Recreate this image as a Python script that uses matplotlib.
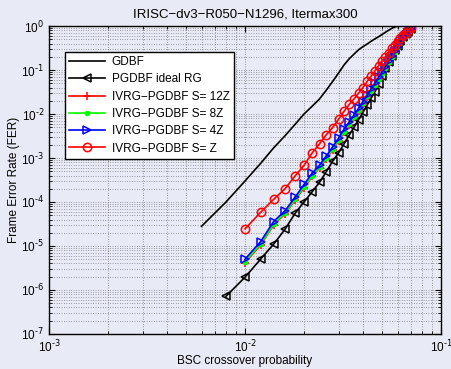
import numpy as np
import matplotlib
matplotlib.use("Agg")
import matplotlib.pyplot as plt
from matplotlib.ticker import LogLocator, NullFormatter, FuncFormatter

plt.rcParams['font.family'] = ['Liberation Sans', 'DejaVu Sans']
plt.rcParams['mathtext.default'] = 'regular'

# crossover probabilities
p_gdbf = [0.006, 0.008, 0.010, 0.012, 0.014, 0.016, 0.018, 0.020, 0.022, 0.024,
          0.026, 0.028, 0.030, 0.032, 0.034, 0.036, 0.038, 0.040, 0.042, 0.044,
          0.046, 0.048, 0.050, 0.052, 0.054, 0.056, 0.058, 0.060, 0.062, 0.064,
          0.066, 0.068, 0.070]
p_ideal = p_gdbf[1:]
p_ivrg = p_gdbf[2:]

fer_gdbf = [2.8e-5, 1.0e-4, 3.0e-4, 7.5e-4, 1.7e-3, 3.2e-3, 5.8e-3, 1.0e-2, 1.5e-2, 2.2e-2,
            3.5e-2, 5.5e-2, 8.5e-2, 0.13, 0.18, 0.23, 0.29, 0.34, 0.39, 0.45,
            0.51, 0.57, 0.64, 0.72, 0.80, 0.88, 0.95, 0.98, 0.99, 0.995,
            0.995, 0.995, 0.995]

fer_ideal = [7.2e-7, 1.95e-6, 5.0e-6, 1.1e-5, 2.4e-5, 5.5e-5, 1.0e-4, 1.7e-4, 2.8e-4, 4.9e-4,
             8.5e-4, 1.3e-3, 2.1e-3, 3.3e-3, 5.0e-3, 7.5e-3, 1.1e-2, 1.6e-2, 2.3e-2, 3.2e-2,
             4.8e-2, 7.5e-2, 0.11, 0.15, 0.21, 0.28, 0.36, 0.45, 0.55, 0.65,
             0.75, 0.84]

fer_12z = [4.2e-6, 1.05e-5, 3.0e-5, 5.4e-5, 1.1e-4, 2.1e-4, 3.8e-4, 6.0e-4, 9.5e-4, 1.55e-3,
           2.4e-3, 3.9e-3, 5.7e-3, 8.4e-3, 1.2e-2, 1.7e-2, 2.4e-2, 3.3e-2, 4.5e-2, 6.1e-2,
           8.2e-2, 0.11, 0.15, 0.20, 0.26, 0.33, 0.41, 0.50, 0.60, 0.71,
           0.81]
fer_8z = [4.4e-6, 1.1e-5, 3.1e-5, 5.6e-5, 1.15e-4, 2.2e-4, 3.9e-4, 6.2e-4, 9.8e-4, 1.6e-3,
          2.5e-3, 4.0e-3, 5.8e-3, 8.6e-3, 1.22e-2, 1.75e-2, 2.5e-2, 3.4e-2, 4.6e-2, 6.2e-2,
          8.3e-2, 0.11, 0.15, 0.20, 0.26, 0.33, 0.41, 0.50, 0.60, 0.71,
          0.82]
fer_4z = [5.0e-6, 1.25e-5, 3.6e-5, 6.3e-5, 1.28e-4, 2.5e-4, 4.5e-4, 6.9e-4, 1.1e-3, 1.8e-3,
          2.8e-3, 4.5e-3, 6.5e-3, 9.5e-3, 1.35e-2, 1.9e-2, 2.7e-2, 3.7e-2, 5.0e-2, 6.8e-2,
          9.0e-2, 0.12, 0.16, 0.21, 0.27, 0.34, 0.42, 0.51, 0.61, 0.72,
          0.84]
fer_1z = [2.45e-5, 5.8e-5, 1.15e-4, 2.0e-4, 3.9e-4, 6.8e-4, 1.3e-3, 2.1e-3, 3.4e-3, 4.9e-3,
          7.6e-3, 1.15e-2, 1.65e-2, 2.2e-2, 3.0e-2, 4.0e-2, 5.5e-2, 7.2e-2, 9.5e-2, 0.125,
          0.16, 0.20, 0.25, 0.31, 0.37, 0.45, 0.53, 0.62, 0.71, 0.80,
          0.88]

bg = '#e8eaf5'
fig = plt.figure(figsize=(4.52, 3.69), dpi=100, facecolor=bg)
ax = fig.add_axes([0.1084, 0.0949, 0.8673, 0.8346])
ax.set_facecolor(bg)

lw = 1.2
ms = 6
ax.loglog(p_gdbf, fer_gdbf, '-', color='k', lw=lw, label='GDBF')
ax.loglog(p_ideal, fer_ideal, '-<', color='k', lw=lw, ms=ms, mfc='none', mew=1.1,
          label='PGDBF ideal RG')
ax.loglog(p_ivrg, fer_12z, '-+', color='r', lw=lw, ms=ms, mew=1.1,
          label='IVRG\u2212PGDBF S= 12Z')
ax.loglog(p_ivrg, fer_8z, marker='.', color='#00ff00', lw=lw, ms=ms, linestyle='-',
          label='IVRG\u2212PGDBF S= 8Z')
ax.loglog(p_ivrg, fer_4z, '->', color='b', lw=lw, ms=ms, mfc='none', mew=1.1,
          label='IVRG\u2212PGDBF S= 4Z')
ax.loglog(p_ivrg, fer_1z, '-o', color='r', lw=lw, ms=ms, mfc='none', mew=1.1,
          label='IVRG\u2212PGDBF S= Z')

ax.set_xlim(1e-3, 1e-1)
ax.set_ylim(1e-7, 1)
ax.xaxis.set_major_locator(LogLocator(base=10, numticks=10))
ax.yaxis.set_major_locator(LogLocator(base=10, numticks=10))
ax.xaxis.set_minor_locator(LogLocator(base=10, subs=np.arange(2, 10), numticks=20))
ax.yaxis.set_minor_locator(LogLocator(base=10, subs=np.arange(2, 10), numticks=20))
ax.xaxis.set_minor_formatter(NullFormatter())
ax.yaxis.set_minor_formatter(NullFormatter())


def dec_fmt(v, pos):
    return r'$10^{\text{%d}}$' % int(round(np.log10(v)))


ax.xaxis.set_major_formatter(FuncFormatter(dec_fmt))
ax.yaxis.set_major_formatter(FuncFormatter(dec_fmt))

ax.grid(True, which='both', linestyle=(0, (1, 2.5)), color='0.3', lw=0.5)
ax.tick_params(which='both', direction='in', top=True, right=True, labelsize=8.5)
ax.tick_params(which='major', length=4)
ax.tick_params(which='minor', length=2)
for s in ax.spines.values():
    s.set_linewidth(1.0)

ax.set_title('IRISC\u2212dv3\u2212R050\u2212N1296, Itermax300', fontsize=9.5, pad=6)
ax.set_xlabel('BSC crossover probability', fontsize=8.5)
ax.set_ylabel('Frame Error Rate (FER)', fontsize=8.5)
ax.xaxis.set_label_coords(0.5, -0.068)
ax.yaxis.set_label_coords(-0.074, 0.5)

leg = ax.legend(loc='upper left', bbox_to_anchor=(0.041, 0.916), borderaxespad=0,
                fontsize=8.5, handlelength=3.0, handletextpad=0.6,
                labelspacing=0.45, borderpad=0.35,
                fancybox=False, framealpha=1, edgecolor='k')
leg.get_frame().set_linewidth(1.0)

fig.savefig('out.png', dpi=100, facecolor=bg)
